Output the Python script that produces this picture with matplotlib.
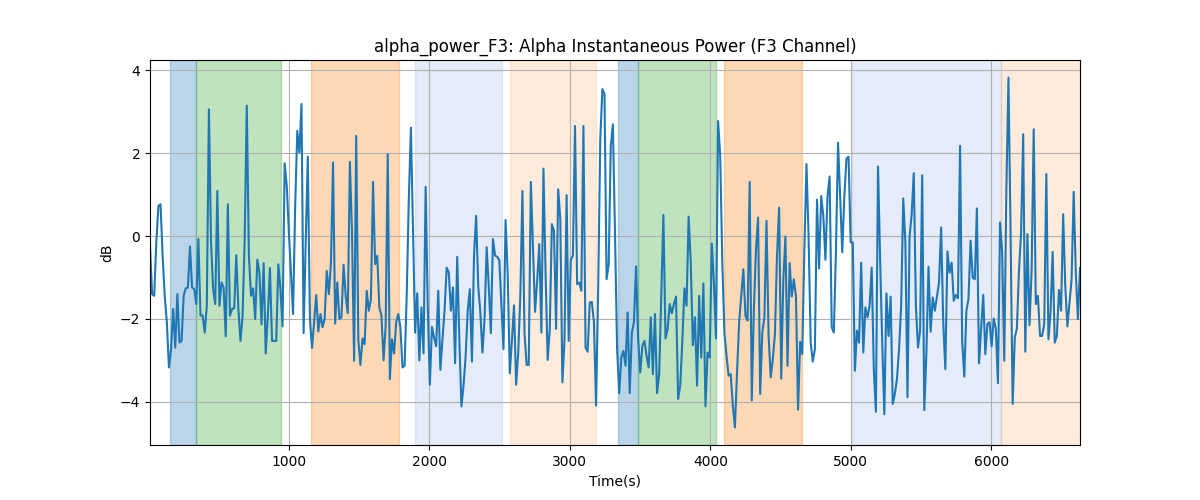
import numpy as np
import matplotlib
matplotlib.use("Agg")
import matplotlib.pyplot as plt

# dB values (left to right)
seg1 = [-0.23, -1.40, -1.44, -0.15, 0.73, 0.77, -0.47, -1.44, -2.08, -3.17, -2.73, -1.76, -2.69, -1.40, -2.57,
        -2.53, -1.44, -1.26, -1.24, -0.25, -1.24, -1.28, -1.64, -0.07, -1.92, -1.91, -2.33, -1.68, 3.06, -0.15,
        -1.28, -1.64, 1.09, -1.68, -1.12, -1.24, -2.42, 0.77, -1.92, -1.76, -1.74, -0.46, -1.76, -2.53, -1.92,
        -0.07, 3.15, -0.47, -1.44, -1.26, -2.00, -0.57, -0.88, -2.13, -0.65]
seg2 = [-2.83, -1.92, -0.77, -2.53, -2.53, -2.53, -0.68, -1.28, -2.18, 1.76, 1.21, 0.09, -0.88, -1.88, 0.73,
        2.54, 2.02, 3.19, -2.34, -0.15, 1.92, -2.00, -2.70, -2.08, -1.42, -2.30, -1.88, -2.20, -2.00, -0.84,
        -1.40, -0.64, 1.78, -2.11, -1.12, -2.00, -1.96, -0.69, -1.44, -1.86, 1.79, 0.09, -3.01, 2.42, -2.49,
        -3.11, -2.47, -2.61, -1.32, -1.80, -1.52, 1.31, -0.68, -0.47, -1.72]
seg3 = [-1.92, -3.00, -2.16, 1.98, -3.45, -2.49, -2.83, -2.08, -1.88, -2.20, -3.17, -3.13, -1.44, 0.89, 2.62,
        0.17, -2.33, -1.38, -3.00, -1.72, -2.83, 1.19, -1.68, -3.59, -2.19, -2.45, -2.66, -1.32, -3.23, -2.49,
        -1.79, -0.76, -0.88, -1.80, -1.24, -3.07, -0.50, -2.45, -4.11, -3.61, -2.91, -1.80, -1.28, -3.03, -0.47,
        0.49, -1.20, -1.84, -2.81, -2.00, -0.27, -1.20, -2.34, -0.07]
seg4 = [-0.47, -0.50, -0.58, -1.68, -2.73, 0.39, -0.88, -3.31, -2.53, -1.67, -3.59, -2.83, -1.44, 1.09, -2.37,
        -3.11, -3.11, 1.31, -0.23, -1.83, -1.08, -0.19, -2.33, 1.63, -0.88, -2.99, -2.24, 0.29, 0.13, -2.24,
        1.13, 0.41, -3.53, -2.49, 0.99, -2.53, -0.57, -0.47, 2.66, -1.16, -1.12, -1.32, 2.66, -2.69, -2.79,
        -1.60, -1.59, -2.08, -4.09, -1.28, 2.34, 3.55, 3.43, -1.04]
seg5 = [-0.68, 2.18, 2.70, 0.09, -2.73, -3.79, -2.93, -2.77, -3.13, -1.84, -3.79, -2.33, -2.08, -0.73, -2.49,
        -3.29, -2.65, -2.53, -2.89, -3.17, -1.96, -3.33, -1.88, -3.79, -3.33, -1.44, 0.51, -2.47, -2.24, -1.64,
        -1.86, -1.64, -1.46, -3.93, -3.61, -2.53, -1.26, -1.68, 0.47, -0.64, -2.63, -1.96, -3.61, -1.44, -2.93,
        -1.14, -4.11, -2.81, -2.93, -0.18, -1.12, -2.47, 2.78, 1.94, -0.64]
seg6 = [-2.33, -2.89, -3.37, -3.33, -4.09, -4.62, -3.29, -2.08, -1.44, -0.80, -1.92, -2.04, 1.31, -3.97, -1.76,
        -0.31, 0.45, -3.81, -2.33, -1.96, 0.37, -2.41, -3.41, -2.97, -2.37, -0.47, 0.69, -3.44, -1.04, -0.01,
        -3.13, -0.65, -1.46, -1.04, -1.44, -4.19, -2.55, -2.85, -0.31, 1.74, 0.01, -2.57, -3.03, -2.73, 0.88,
        -0.78, 0.97, 0.49, -0.57, 0.97, 1.44, -2.20, -2.33, -0.39, 2.26, 0.97]
seg7 = [-0.39, 0.97, 1.87, 1.92, -0.15, -0.15, -3.25, -2.28, -2.57, -0.64, -2.81, -1.72, -1.96, -1.68, -0.76,
        -3.21, -4.24, 1.68, -0.56, -2.57, -4.30, -1.38, -2.41, -1.46, -4.05, -3.81, -3.45, -2.73, -1.68, 0.91,
        -0.15, -3.89, -0.01, 0.53, 1.52, -1.68, -2.69, -2.28, 1.47, -4.20, -2.81, -0.74, -2.31, -1.48, -1.80,
        -1.46, -1.12, 0.21, -2.08, -3.21, -0.37, -0.88, -0.64, -1.56]
seg8 = [-1.42, -1.50, 2.18, -2.53, -3.39, -1.80, -1.52, -0.11, -1.00, -1.04, 0.67, -3.07, -2.24, -1.42, -2.85,
        -2.12, -2.08, -2.66, -1.99, -2.24, -3.55, 0.33, -0.39, -3.01, 1.13, 3.83, 0.09, -4.05, -2.45, -2.23,
        -0.84, 0.09, 2.46, -2.79, 0.05, -2.15, -0.84, 2.58, -1.64, -1.44, -2.41, -2.41, -2.12, 1.50, -2.49,
        -1.83, -0.38, -2.57, -2.41, -1.30, -1.80, 0.53, -1.20, -2.18, -1.60, -1.05, 1.07, -0.88, -2.00, -0.77]

power_db = np.array(seg1 + seg2 + seg3 + seg4 + seg5 + seg6 + seg7 + seg8)
t_start, t_end = 12, 6631
time_s = np.linspace(t_start, t_end, len(power_db))

# shaded intervals: (start, end, color, alpha)
span_starts = [154, 337, 1158, 1898, 2574, 3342, 3487, 4097, 5005, 6068]
span_ends = [337, 942, 1782, 2515, 3183, 3487, 4042, 4649, 6068, 6700]
span_colors = ["tab:blue", "tab:green", "tab:orange", "#4878d0", "tab:orange",
               "tab:blue", "tab:green", "tab:orange", "#4878d0", "tab:orange"]
span_alphas = [0.3, 0.3, 0.3, 0.14, 0.15, 0.3, 0.3, 0.3, 0.14, 0.15]

fig, ax = plt.subplots(figsize=(12, 5), dpi=100)
for s, e, c, a in zip(span_starts, span_ends, span_colors, span_alphas):
    ax.axvspan(s, e, color=c, alpha=a)
ax.plot(time_s, power_db, color="tab:blue", linewidth=1.5)
ax.set_xlim(t_start, t_end)
ax.grid(True)
ax.set_title("alpha_power_F3: Alpha Instantaneous Power (F3 Channel)")
ax.set_xlabel("Time(s)")
ax.set_ylabel("dB")
fig.savefig("out.png", dpi=100)
